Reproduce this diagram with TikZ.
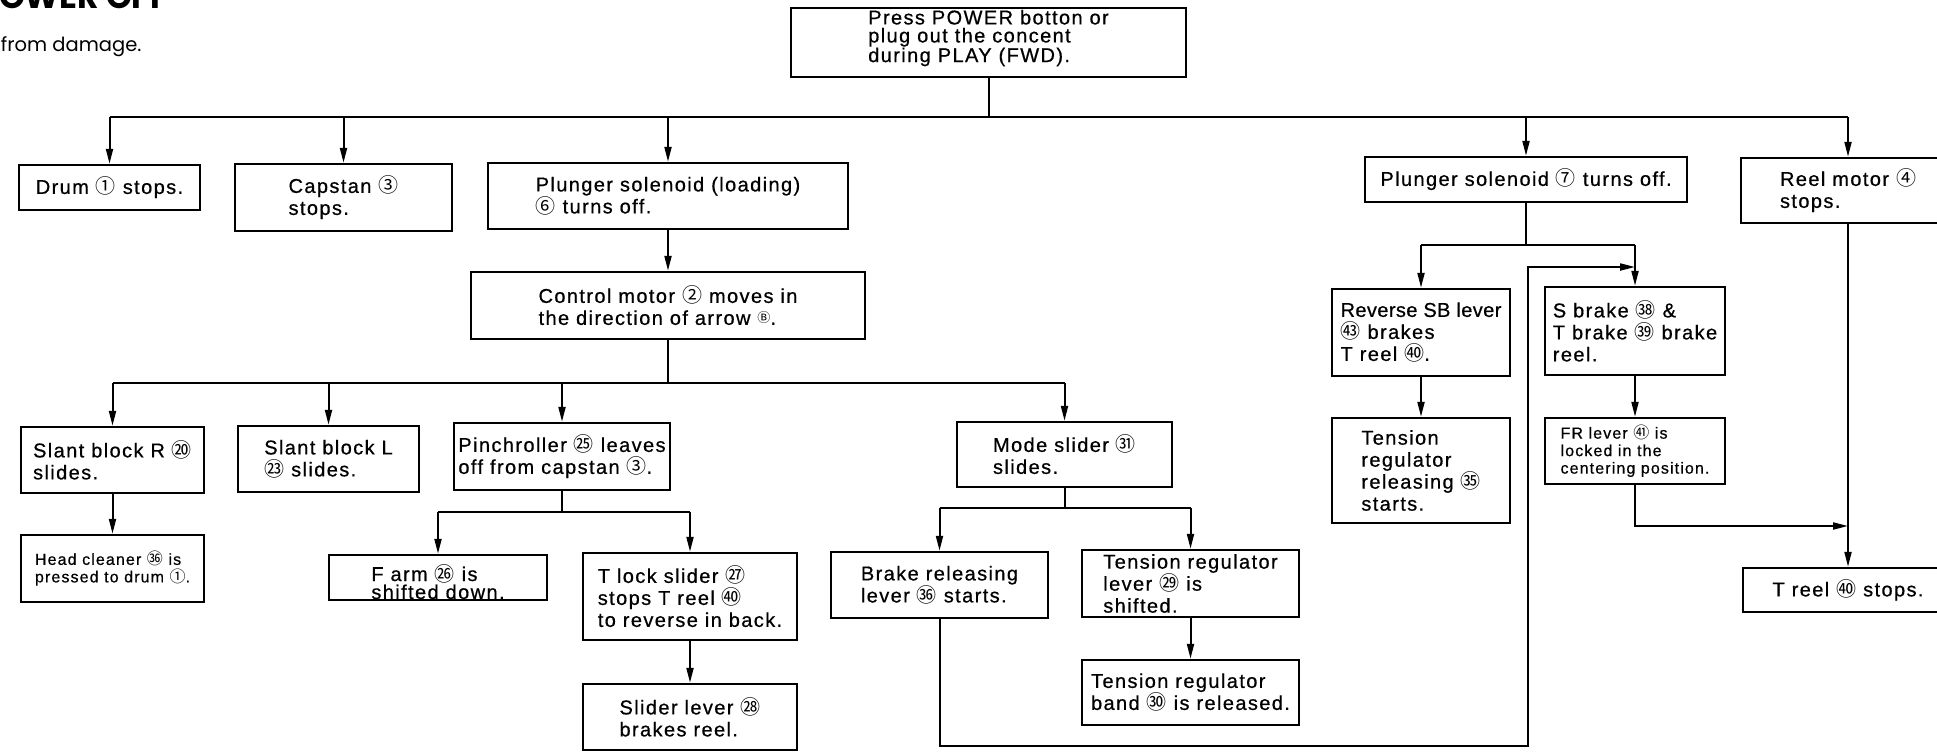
\documentclass[tikz,border=0pt]{standalone}
\usepackage{fontspec}
\setmainfont{Liberation Sans}[LetterSpace=7,FakeBold=0.6]
\newfontfamily\cjkfont{Noto Sans CJK JP}
\newfontfamily\headfont{Poppins}
\usetikzlibrary{arrows.meta}
\newcommand\circnum[1]{{\cjkfont #1}}

\begin{document}
\begin{tikzpicture}[x=1pt,y=-1pt,line width=2pt,
    box/.style={draw, line width=2.4pt, align=left, inner sep=1pt, font=\fontsize{20}{22}\selectfont},
    small/.style={box, font=\fontsize{16}{17.5}\selectfont},
    arr/.style={-{Triangle[length=15pt,width=7pt]}}]
  \fill[white] (0,0) rectangle (1937,752);
  \useasboundingbox (0,0) rectangle (1937,752);

  \node[anchor=base west, inner sep=0, font=\headfont\bfseries\fontsize{33}{33}\selectfont] (title) at (-2,9) {OWER OFF};
  \node[anchor=base west, inner sep=0, font=\headfont\fontsize{19.5}{20}\selectfont] (note) at (0,52) {from damage.};

  \node[box, minimum width=395, minimum height=69, font=\fontsize{20}{18}\selectfont, text depth=13pt] (start) at (988.5,42.5) {Press POWER botton or\\plug out the concent\\during PLAY (FWD).};

  \node[box, minimum width=181, minimum height=45] (drum) at (109.5,187.5) {Drum \circnum{①} stops.};
  \node[box, minimum width=217, minimum height=67] (capstan) at (343.5,197.5) {Capstan \circnum{③}\\stops.};
  \node[box, minimum width=360, minimum height=66] (pl6) at (668,196) {Plunger solenoid (loading)\\\circnum{⑥} turns off.};
  \node[box, minimum width=394, minimum height=67] (ctrl) at (668,305.5) {Control motor \circnum{②} moves in\\the direction of arrow {\cjkfont\fontsize{13}{13}\selectfont\raisebox{2pt}{Ⓑ}}.};
  \node[box, minimum width=322, minimum height=45] (pl7) at (1526,179.5) {Plunger solenoid \circnum{⑦} turns off.};
  \node[box, minimum width=214, minimum height=65] (reel) at (1848,190.5) {Reel motor \circnum{④}\\stops.};

  \node[box, minimum width=183, minimum height=66] (slantR) at (112.5,460) {Slant block R \circnum{⑳}\\slides.};
  \node[box, minimum width=181, minimum height=66] (slantL) at (328.5,459) {Slant block L\\\circnum{㉓} slides.};
  \node[box, minimum width=216, minimum height=67] (pinch) at (562,456.5) {Pinchroller \circnum{㉕} leaves\\off from capstan \circnum{③}.};
  \node[box, minimum width=215, minimum height=65] (mode) at (1064.5,454.5) {Mode slider \circnum{㉛}\\slides.};

  \node[small, minimum width=183, minimum height=67] (cleaner) at (112.5,568.5) {Head cleaner \circnum{㊱} is\\pressed to drum \circnum{①}.};
  \node[box, minimum width=218, minimum height=45, inner sep=0pt, font=\fontsize{20}{18}\selectfont, text height=43pt, text depth=0pt] (farm) at (438,577.5) {F arm \circnum{㉖} is\\shifted down.};
  \node[box, minimum width=214, minimum height=87] (tlock) at (690,596.5) {T lock slider \circnum{㉗}\\stops T reel \circnum{㊵}\\to reverse in back.};
  \node[box, minimum width=214, minimum height=66] (slider) at (690,717) {Slider lever \circnum{㉘}\\brakes reel.};
  \node[box, minimum width=217, minimum height=66] (brakerel) at (939.5,585) {Brake releasing\\lever \circnum{㊱} starts.};
  \node[box, minimum width=217, minimum height=67] (tenslever) at (1190.5,583.5) {Tension regulator\\lever \circnum{㉙} is\\shifted.};
  \node[box, minimum width=217, minimum height=65] (tensband) at (1190.5,692.5) {Tension regulator\\band \circnum{㉚} is released.};

  \node[box, minimum width=178, minimum height=87] (revsb) at (1421,332.5) {{\addfontfeature{LetterSpace=2}Reverse SB lever}\\\circnum{㊸} brakes\\T reel \circnum{㊵}.};
  \node[box, minimum width=180, minimum height=88] (sbrake) at (1635,331) {S brake \circnum{㊳} \&\\T brake \circnum{㊴} brake\\reel.};
  \node[box, minimum width=178, minimum height=105] (tensrel) at (1421,470.5) {Tension\\regulator\\releasing \circnum{㉟}\\starts.};
  \node[small, minimum width=180, minimum height=66] (frlever) at (1635,451) {FR lever \circnum{㊶} is\\locked in the\\centering position.};
  \node[box, minimum width=210, minimum height=44] (treel) at (1848,590) {T reel \circnum{㊵} stops.};

  \coordinate (top) at (988.5,117);
  \coordinate (mid) at (668,383);
  \coordinate (pj) at (562,512);
  \coordinate (mj) at (1064.5,508);
  \coordinate (sj) at (1526,245);
  \coordinate (loopb) at (1528,746);
  \coordinate (loopt) at (1528,267);
  \coordinate (fj) at (1635,526);

  \draw (start) -- (top);
  \draw (drum|-top) -- (reel|-top);
  \foreach \n in {drum,capstan,pl6,pl7,reel}
    \draw[arr] (\n|-top) -- (\n);

  \draw[arr] (pl6) -- (ctrl);
  \draw (ctrl) -- (mid);
  \draw (slantR|-mid) -- (mode|-mid);
  \foreach \n in {slantR,slantL,pinch,mode}
    \draw[arr] (\n|-mid) -- (\n);
  \draw[arr] (slantR) -- (cleaner);

  \draw (pinch) -- (pj);
  \draw (farm|-pj) -- (tlock|-pj);
  \foreach \n in {farm,tlock}
    \draw[arr] (\n|-pj) -- (\n);
  \draw[arr] (tlock) -- (slider);

  \draw (mode) -- (mj);
  \draw (brakerel|-mj) -- (tenslever|-mj);
  \foreach \n in {brakerel,tenslever}
    \draw[arr] (\n|-mj) -- (\n);
  \draw[arr] (tenslever) -- (tensband);

  \draw (pl7) -- (sj);
  \draw (revsb|-sj) -- (sbrake|-sj);
  \foreach \n in {revsb,sbrake}
    \draw[arr] (\n|-sj) -- (\n);
  \draw[arr] (revsb) -- (tensrel);
  \draw[arr] (sbrake) -- (frlever);

  \draw[arr] (brakerel) |- (loopb) -- (loopt) -- (sbrake|-loopt);
  \draw[arr] (frlever) |- (reel|-fj);
  \draw[arr] (reel) -- (treel);
\end{tikzpicture}
\end{document}
